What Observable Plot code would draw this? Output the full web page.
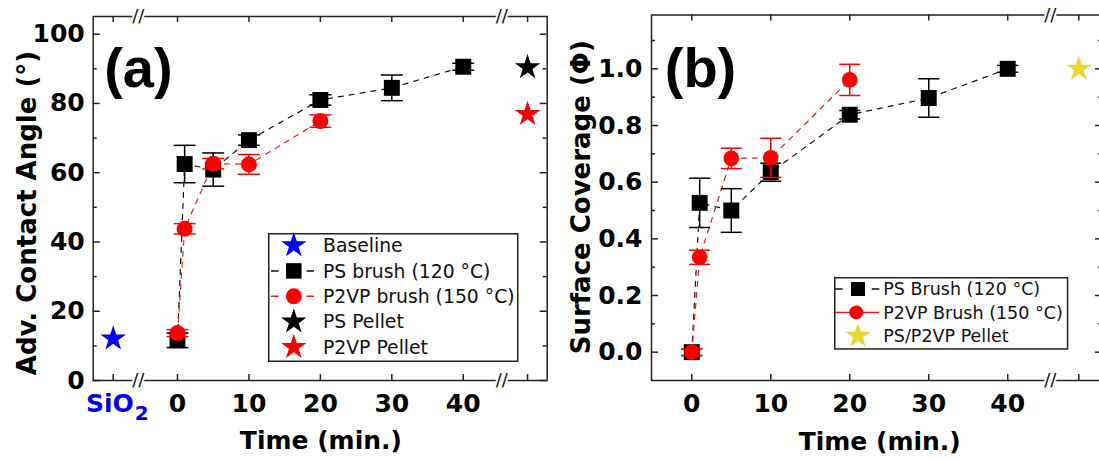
<!DOCTYPE html>
<html>
<head>
<meta charset="utf-8">
<script src="https://cdn.jsdelivr.net/npm/d3@7"></script>
<script src="https://cdn.jsdelivr.net/npm/@observablehq/plot@0.6"></script>
<style>
  html, body { margin: 0; padding: 0; background: #fff; overflow: hidden; }
  #wrap { position: relative; width: 1099px; height: 459px; overflow: hidden; background: #fff; }
  .panel { position: absolute; top: 0; }
  .panel svg { max-width: none !important; }
</style>
</head>
<body>
<div id="wrap">
  <div id="pa" class="panel" style="left:0;width:560px;height:459px"></div>
  <div id="pb" class="panel" style="left:560px;width:542px;height:459px"></div>
</div>
<script>
// ---------------- data: panel (a) advancing contact angle (deg) ----------------
const anglePS_time = [0, 1, 5, 10, 20, 30, 40];
const anglePS      = [11.6, 62.5, 60.9, 69.4, 81.0, 84.5, 90.6];
const anglePS_err  = [2.1, 5.4, 4.8, 1.5, 1.5, 3.7, 1.0];
const angleP2VP_time = [0, 1, 5, 10, 20];
const angleP2VP      = [13.7, 43.8, 62.6, 62.4, 74.9];
const angleP2VP_err  = [1.0, 1.5, 1.5, 2.85, 1.8];
const angleBaseline   = 12.1;  // SiO2
const anglePSPellet   = 90.4;
const angleP2VPPellet = 76.9;

// ---------------- data: panel (b) surface coverage ----------------
const covPS_time = [0, 1, 5, 10, 20, 30, 40];
const covPS      = [0, 0.527, 0.500, 0.635, 0.838, 0.897, 1.0];
const covPS_err  = [0.012, 0.087, 0.077, 0.032, 0.015, 0.068, 0.012];
const covP2VP_time = [0, 1, 5, 10, 20];
const covP2VP      = [0, 0.335, 0.684, 0.686, 0.961];
const covP2VP_err  = [0.012, 0.025, 0.036, 0.069, 0.055];
const covPellet = 1.0;

// ---------------- tick labels / legend labels ----------------
const timeTicks = [0, 10, 20, 30, 40];
const angleTicks = [0, 20, 40, 60, 80, 100];
const angleMinor = [10, 30, 50, 70, 90];
const covTicks = [0, 0.2, 0.4, 0.6, 0.8, 1.0];
const covMinor = [0.1, 0.3, 0.5, 0.7, 0.9, 1.1];
const legendA = ["Baseline", "PS brush (120 °C)", "P2VP brush (150 °C)", "PS Pellet", "P2VP Pellet"];
const legendB = ["PS Brush (120 °C)", "P2VP Brush (150 °C)", "PS/P2VP Pellet"];

// broken-axis layout: where the non-time categories sit on the x axis
const axisA = {domain: [-11.8, 51.75], sio2At: -9, pelletAt: 49, breaks: [-5.5, 45.4]};
const axisB = {domain: [-5.1, 52.0], pelletAt: 49, breaks: [45.4]};

// ---------------- helpers ----------------
const rows = (t, v, e) => t.map((x, i) => ({x, y: v[i], e: e[i]}));
const capSymbol = {draw(ctx, size) { const w = Math.sqrt(size / Math.PI); ctx.moveTo(-w, 0); ctx.lineTo(w, 0); }};
const INK = "#222";
const RED = "#ff0000";
const mid = {textAnchor: "middle", lineAnchor: "middle"};

function errorMarks(data, color, capR) {
  return [
    Plot.ruleX(data, {x: "x", y1: d => d.y - d.e, y2: d => d.y + d.e, stroke: color, strokeWidth: 1.5}),
    Plot.dot(data, {x: "x", y: d => d.y - d.e, symbol: capSymbol, r: capR, fill: "none", stroke: color, strokeWidth: 1.5}),
    Plot.dot(data, {x: "x", y: d => d.y + d.e, symbol: capSymbol, r: capR, fill: "none", stroke: color, strokeWidth: 1.5})
  ];
}
function frameTicks(xVals, yMajor, yMinor, W, H) {
  const s = {stroke: INK, strokeWidth: 1.5};
  return [
    Plot.tickX(xVals, {x: d => d, insetTop: H - 6, ...s}),
    Plot.tickX(xVals, {x: d => d, insetBottom: H - 6, ...s}),
    Plot.tickY(yMajor, {y: d => d, insetRight: W - 7, ...s}),
    Plot.tickY(yMajor, {y: d => d, insetLeft: W - 7, ...s}),
    Plot.tickY(yMinor, {y: d => d, insetRight: W - 4, ...s}),
    Plot.tickY(yMinor, {y: d => d, insetLeft: W - 4, ...s})
  ];
}
function breakMarks(breaks) {
  const s = {x: d => d, text: () => "//", fill: "#111", stroke: "#fff", strokeWidth: 4, paintOrder: "stroke",
             fontSize: 18, fontWeight: "normal", fontFamily: "DejaVu Sans", ...mid};
  return [Plot.text(breaks, {...s, frameAnchor: "bottom"}), Plot.text(breaks, {...s, frameAnchor: "top"})];
}
const baseStyle = {fontFamily: "'DejaVu Sans', sans-serif", fontSize: "25px", fontWeight: "bold",
                   color: "#000", background: "transparent", maxWidth: "none", overflow: "visible"};

// ---------------- panel (a) ----------------
const psA = rows(anglePS_time, anglePS, anglePS_err);
const p2A = rows(angleP2VP_time, angleP2VP, angleP2VP_err);
const WA = 546.7 - 92.7, HA = 380 - 16;
const plotA = Plot.plot({
  width: 560, height: 459,
  marginLeft: 92.7, marginRight: 13.3, marginTop: 16, marginBottom: 79,
  style: baseStyle,
  x: {domain: axisA.domain, ticks: timeTicks, tickSize: 0, tickPadding: 14, label: null, tickFormat: d => String(d)},
  y: {domain: [0, 105.1], ticks: angleTicks, tickSize: 0, tickPadding: 8.5, label: null, tickFormat: d => String(d)},
  marks: [
    Plot.frame({stroke: INK, strokeWidth: 1.5}),
    ...frameTicks([axisA.sio2At, ...timeTicks, axisA.pelletAt], angleTicks, angleMinor, WA, HA),
    ...breakMarks(axisA.breaks),
    Plot.text([axisA.sio2At], {x: d => d, frameAnchor: "bottom", text: () => "SiO", textAnchor: "end", lineAnchor: "middle",
      dx: 20.5, dy: 23, fill: "#0000ee", fontSize: 25, fontWeight: "bold"}),
    Plot.text([axisA.sio2At], {x: d => d, frameAnchor: "bottom", text: () => "2", textAnchor: "start", lineAnchor: "middle",
      dx: 21.5, dy: 33, fill: "#0000ee", fontSize: 20, fontWeight: "bold"}),
    Plot.text(["Adv. Contact Angle (°)"], {text: d => d, frameAnchor: "left", rotate: -90, dx: -65.8, dy: 14.5,
      fontSize: 26, fontWeight: "bold", ...mid}),
    Plot.text(["Time (min.)"], {text: d => d, frameAnchor: "bottom", dx: 0.7, dy: 60.7, fontSize: 25, fontWeight: "bold", ...mid}),
    Plot.text(["(a)"], {text: d => d, frameAnchor: "top-left", dx: 45.2, dy: 53, fontSize: 56,
      fontFamily: "'Liberation Sans', Arial, sans-serif", fontWeight: "bold", ...mid}),
    Plot.line(psA, {x: "x", y: "y", stroke: "#111", strokeWidth: 1.2, strokeDasharray: "5,6"}),
    Plot.line(p2A, {x: "x", y: "y", stroke: "#e02020", strokeWidth: 1.2, strokeDasharray: "5,6"}),
    ...errorMarks(psA, "#000", 11),
    Plot.dot(psA, {x: "x", y: "y", symbol: "square", r: 9, fill: "#000"}),
    ...errorMarks(p2A, RED, 11),
    Plot.dot(p2A, {x: "x", y: "y", symbol: "circle", r: 8, fill: RED}),
    Plot.dot([angleBaseline], {x: () => axisA.sio2At, y: d => d, symbol: "star", r: 8, fill: "#0000ff"}),
    Plot.dot([anglePSPellet], {x: () => axisA.pelletAt, y: d => d, symbol: "star", r: 8, fill: "#000"}),
    Plot.dot([angleP2VPPellet], {x: () => axisA.pelletAt, y: d => d, symbol: "star", r: 8, fill: RED})
  ]
});
document.getElementById("pa").appendChild(plotA);

// ---------------- panel (b) ----------------
const psB = rows(covPS_time, covPS, covPS_err);
const p2B = rows(covP2VP_time, covP2VP, covP2VP_err);
const WB = 1102 - 651, HB = 380 - 14.5;
const plotB = Plot.plot({
  width: 542, height: 459,
  marginLeft: 91, marginRight: 0, marginTop: 14.5, marginBottom: 79,
  style: baseStyle,
  x: {domain: axisB.domain, ticks: timeTicks, tickSize: 0, tickPadding: 14, label: null, tickFormat: d => String(d)},
  y: {domain: [-0.1, 1.19], ticks: covTicks, tickSize: 0, tickPadding: 9, label: null, tickFormat: d3.format(".1f")},
  marks: [
    Plot.frame({stroke: INK, strokeWidth: 1.5}),
    ...frameTicks([...timeTicks, axisB.pelletAt], covTicks, covMinor, WB, HB),
    ...breakMarks(axisB.breaks),
    Plot.text(["Surface Coverage (Φ)"], {text: d => d, frameAnchor: "left", rotate: -90, dx: -69.8, dy: -0.5,
      fontSize: 26, fontWeight: "bold", ...mid}),
    Plot.text(["Time (min.)"], {text: d => d, frameAnchor: "bottom", dx: 2.7, dy: 61.7, fontSize: 25, fontWeight: "bold", ...mid}),
    Plot.text(["(b)"], {text: d => d, frameAnchor: "top-left", dx: 49, dy: 54, fontSize: 56,
      fontFamily: "'Liberation Sans', Arial, sans-serif", fontWeight: "bold", ...mid}),
    Plot.line(psB, {x: "x", y: "y", stroke: "#111", strokeWidth: 1.2, strokeDasharray: "5,6"}),
    Plot.line(p2B, {x: "x", y: "y", stroke: "#e02020", strokeWidth: 1.2, strokeDasharray: "5,6"}),
    ...errorMarks(psB, "#000", 10.5),
    Plot.dot(psB, {x: "x", y: "y", symbol: "square", r: 9, fill: "#000"}),
    ...errorMarks(p2B, RED, 10.5),
    Plot.dot(p2B, {x: "x", y: "y", symbol: "circle", r: 7.8, fill: RED}),
    Plot.dot([covPellet], {x: () => axisB.pelletAt, y: d => d, symbol: "star", r: 8, fill: "#e6d835"})
  ]
});
document.getElementById("pb").appendChild(plotB);

// ---------------- legends (overlay boxes) ----------------
function drawLegend(o) {
  const svg = d3.create("svg")
    .attr("width", o.width).attr("height", o.height)
    .style("position", "absolute").style("left", o.left + "px").style("top", o.top + "px")
    .style("overflow", "visible");
  svg.append("rect").attr("x", 0.75).attr("y", 0.75).attr("width", o.width - 1.5).attr("height", o.height - 1.5)
    .attr("fill", "#fff").attr("stroke", INK).attr("stroke-width", 1.5);
  o.items.forEach((it, i) => {
    const cy = o.rowY0 + i * o.rowDy;
    if (it.line) {
      svg.append("line").attr("x1", o.lineX1).attr("x2", o.lineX2).attr("y1", cy).attr("y2", cy)
        .attr("stroke", it.line).attr("stroke-width", 1.5).attr("stroke-dasharray", it.dash || null);
    }
    svg.append("path").attr("d", d3.symbol(it.symbol, it.size)())
      .attr("transform", `translate(${it.sx ?? o.symX},${cy})`).attr("fill", it.color);
    svg.append("text").attr("x", o.textX).attr("y", cy).attr("dy", "0.36em")
      .attr("font-family", "'DejaVu Sans', sans-serif").attr("font-size", o.fontSize).attr("fill", "#111")
      .text(it.label);
  });
  document.getElementById("wrap").appendChild(svg.node());
}
const starSize = Math.PI * 64;
drawLegend({
  left: 267.5, top: 232.7, width: 250.5, height: 129, rowY0: 12.5, rowDy: 25.4,
  symX: 25.8, lineX1: 3, lineX2: 46, textX: 55, fontSize: 18.8,
  items: [
    {label: legendA[0], symbol: d3.symbolStar, size: starSize, color: "#0000ff"},
    {label: legendA[1], symbol: d3.symbolSquare, size: 15.5 * 15.5, color: "#000", line: "#111", dash: "7.5,28"},
    {label: legendA[2], symbol: d3.symbolCircle, size: Math.PI * 64, color: RED, line: "#e02020", dash: "7.5,28"},
    {label: legendA[3], symbol: d3.symbolStar, size: starSize, color: "#000"},
    {label: legendA[4], symbol: d3.symbolStar, size: starSize, color: RED}
  ]
});
drawLegend({
  left: 834, top: 277.3, width: 234.3, height: 72.7, rowY0: 12, rowDy: 23.4,
  symX: 24, lineX1: 1, lineX2: 45.3, textX: 49.3, fontSize: 17.5,
  items: [
    {label: legendB[0], symbol: d3.symbolSquare, size: 14 * 14, color: "#000", line: "#111", dash: "7.7,29"},
    {label: legendB[1], symbol: d3.symbolCircle, size: Math.PI * 49, color: RED, line: "#e02020", sx: 22.3},
    {label: legendB[2], symbol: d3.symbolStar, size: starSize, color: "#e6d835"}
  ]
});
</script>
</body>
</html>
